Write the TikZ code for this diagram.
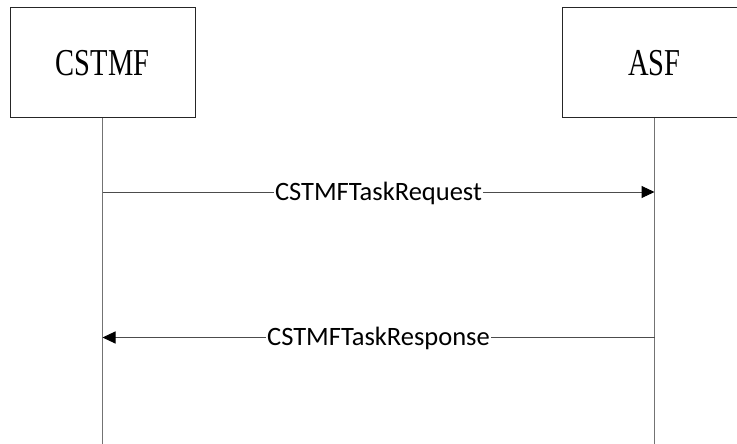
\documentclass[tikz,border=0pt]{standalone}
\usepackage{fontspec}
\newfontfamily\boxfont[FakeStretch=0.75]{Liberation Serif}
\newfontfamily\msgfont{Carlito}
\usetikzlibrary{arrows.meta}

\begin{document}
\begin{tikzpicture}[x=1pt,y=-1pt,
  entity/.style={draw=black!85,line width=1pt,minimum width=185pt,minimum height=110pt,
    font=\boxfont\fontsize{38}{40}\selectfont},
  life/.style={draw=black!55,line width=1pt},
  msg/.style={draw=black!70,line width=1pt,-{Triangle[length=13pt,width=12pt,color=black]}},
  msglabel/.style={fill=white,inner sep=1.5pt,text height=16.5pt,text depth=0pt,
    font=\msgfont\fontsize{26.5}{28}\selectfont}]

  \useasboundingbox (0,0) rectangle (737,444);
  \clip (0,0) rectangle (737,444);

  % the two parties
  \node[entity] (cstmf) at (102.5,63) {CSTMF};
  \node[entity] (asf) at (654.5,63) {ASF};

  % lifelines
  \coordinate (cstmfend) at (102.5,444);
  \coordinate (asfend) at (654.5,444);
  \draw[life] (cstmf.south) -- (cstmfend);
  \draw[life] (asf.south) -- (asfend);

  % messages
  \coordinate (reqfrom) at (102.5,192);
  \coordinate (reqto) at (654.5,192);
  \coordinate (respfrom) at (654.5,337.5);
  \coordinate (respto) at (102.5,337.5);
  \draw[msg] (reqfrom) -- node[msglabel] (req) {CSTMFTaskRequest} (reqto);
  \draw[msg] (respfrom) -- node[msglabel] (resp) {CSTMFTaskResponse} (respto);

\end{tikzpicture}
\end{document}
